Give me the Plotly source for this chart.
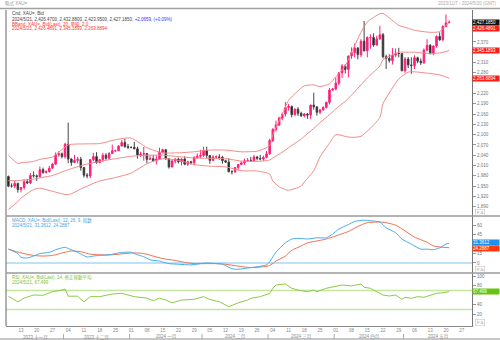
import pandas as pd
import plotly.graph_objects as go

# ---------------- data ----------------
dates = pd.bdate_range("2023-11-07", "2024-05-21").strftime("%Y-%m-%d").tolist()

opens = [1978, 1950, 1950, 1958,
         1940, 1946, 1963, 1959, 1981,
         1980, 1978, 1998, 1990, 1992,
         2002, 2014, 2041, 2044, 2036,
         2072, 2029, 2019, 2025, 2028,
         2004, 1982, 1980, 2027, 2036,
         2019, 2027, 2040, 2031, 2045,
         2053, 2053, 2067, 2077, 2065,
         2063, 2063, 2059, 2041, 2043,
         2045, 2028, 2030, 2024, 2029,
         2049, 2056, 2029, 2006, 2023,
         2029, 2021, 2029, 2014, 2021,
         2018, 2033, 2037, 2039, 2054,
         2039, 2025, 2035, 2035, 2034,
         2024, 2020, 1992, 1992, 2004,
         2013, 2018, 2024, 2025, 2024,
         2035, 2031, 2029, 2034, 2044,
         2083, 2115, 2128, 2148, 2160,
         2179, 2182, 2158, 2174, 2162,
         2155, 2160, 2157, 2186, 2181,
         2165, 2172, 2179, 2194, 2230,
         2233, 2250, 2280, 2300, 2290,
         2329, 2339, 2352, 2333, 2372,
         2344, 2383, 2383, 2361, 2379,
         2391, 2327, 2322, 2316, 2332,
         2337, 2336, 2286, 2320, 2303,
         2301, 2324, 2314, 2309, 2346,
         2360, 2336, 2358, 2386, 2376,
         2415, 2426.47]
highs = [1981, 1958, 1965, 1960,
         1947, 1970, 1971, 1988, 1993,
         1984, 2007, 2004, 1996, 2009,
         2018, 2048, 2052, 2048, 2076,
         2135, 2031, 2041, 2035, 2035,
         2005, 1988, 2028, 2047, 2049,
         2029, 2047, 2046, 2049, 2071,
         2056, 2069, 2084, 2088, 2073,
         2065, 2079, 2065, 2050, 2064,
         2046, 2040, 2040, 2039, 2062,
         2059, 2058, 2032, 2027, 2031,
         2033, 2031, 2037, 2024, 2024,
         2037, 2045, 2056, 2065, 2065,
         2040, 2040, 2040, 2043, 2038,
         2027, 2031, 1996, 2005, 2015,
         2022, 2030, 2032, 2035, 2041,
         2038, 2041, 2039, 2052, 2088,
         2119, 2141, 2152, 2164, 2195,
         2189, 2185, 2177, 2180, 2167,
         2163, 2163, 2187, 2222, 2182,
         2175, 2183, 2196, 2236, 2235,
         2266, 2282, 2305, 2305, 2330,
         2354, 2365, 2355, 2378, 2431,
         2386, 2392, 2395, 2388, 2417,
         2396, 2333, 2334, 2352, 2351,
         2353, 2336, 2326, 2326, 2325,
         2331, 2327, 2322, 2351, 2378,
         2364, 2360, 2389, 2398, 2419,
         2450, 2432.88]
lows = [1947, 1946, 1944, 1931,
        1932, 1940, 1956, 1956, 1975,
        1965, 1975, 1986, 1987, 1990,
        2001, 2012, 2036, 2031, 2030,
        2017, 2009, 2017, 2016, 1995,
        1975, 1973, 1973, 2022, 2015,
        2016, 2020, 2027, 2029, 2044,
        2050, 2052, 2065, 2062, 2058,
        2060, 2057, 2030, 2035, 2024,
        2017, 2027, 2021, 2013, 2028,
        2046, 2028, 2001, 2004, 2016,
        2016, 2010, 2011, 2009, 2013,
        2010, 2030, 2031, 2035, 2031,
        2015, 2023, 2029, 2027, 2015,
        2017, 1990, 1984, 1988, 1996,
        2011, 2012, 2020, 2020, 2020,
        2025, 2025, 2024, 2031, 2042,
        2078, 2109, 2125, 2142, 2153,
        2170, 2150, 2155, 2154, 2151,
        2150, 2146, 2146, 2173, 2155,
        2160, 2170, 2176, 2188, 2228,
        2229, 2244, 2265, 2278, 2267,
        2321, 2325, 2319, 2326, 2342,
        2325, 2350, 2356, 2359, 2376,
        2322, 2291, 2310, 2304, 2326,
        2325, 2285, 2280, 2294, 2277,
        2291, 2308, 2303, 2306, 2343,
        2334, 2331, 2353, 2373, 2373,
        2413, 2423.95]
closes = [1950, 1950, 1958, 1940,
          1946, 1963, 1959, 1981, 1980,
          1978, 1998, 1990, 1992, 2002,
          2014, 2041, 2044, 2036, 2072,
          2029, 2019, 2025, 2028, 2004,
          1982, 1980, 2027, 2036, 2019,
          2027, 2040, 2031, 2045, 2053,
          2053, 2067, 2077, 2065, 2063,
          2063, 2059, 2041, 2043, 2045,
          2028, 2030, 2024, 2029, 2049,
          2056, 2029, 2006, 2023, 2029,
          2021, 2029, 2014, 2021, 2018,
          2033, 2037, 2039, 2054, 2039,
          2025, 2035, 2035, 2034, 2024,
          2020, 1992, 1992, 2004, 2013,
          2018, 2024, 2025, 2024, 2035,
          2031, 2029, 2034, 2044, 2083,
          2115, 2128, 2148, 2160, 2179,
          2182, 2158, 2174, 2162, 2155,
          2160, 2157, 2186, 2181, 2165,
          2172, 2179, 2194, 2230, 2233,
          2250, 2280, 2300, 2290, 2329,
          2339, 2352, 2333, 2372, 2344,
          2383, 2383, 2361, 2379, 2391,
          2327, 2322, 2316, 2332, 2337,
          2336, 2286, 2320, 2303, 2301,
          2324, 2314, 2309, 2346, 2360,
          2336, 2358, 2386, 2376, 2415,
          2425.1191, 2427.185]

bb_dates = ["2023-11-07", "2023-11-10", "2023-11-13", "2023-11-17", "2023-11-21",
            "2023-11-27", "2023-12-04", "2023-12-11", "2023-12-18", "2023-12-25",
            "2024-01-01", "2024-01-08", "2024-01-15", "2024-01-22", "2024-01-29",
            "2024-02-05", "2024-02-12", "2024-02-19", "2024-02-26", "2024-03-01",
            "2024-03-04", "2024-03-06", "2024-03-08", "2024-03-11", "2024-03-15",
            "2024-03-18", "2024-03-21", "2024-03-25", "2024-03-28", "2024-04-01",
            "2024-04-04", "2024-04-08", "2024-04-11", "2024-04-15", "2024-04-19",
            "2024-04-22", "2024-04-26", "2024-04-29", "2024-05-02", "2024-05-06",
            "2024-05-13", "2024-05-16", "2024-05-20", "2024-05-21"]
bb_upper = [2040, 2016, 2018, 2022, 2028, 2035, 2070, 2073, 2074, 2085,
            2090, 2062, 2047, 2047, 2050, 2055, 2055, 2050, 2052, 2068,
            2100, 2140, 2180, 2200, 2236, 2242, 2245, 2240, 2248, 2268,
            2300, 2340, 2398, 2428, 2452, 2453, 2425, 2418, 2410, 2404,
            2398, 2400, 2418, 2426.4891]
bb_mid = [1966, 1966, 1967, 1970, 1974, 1981, 1998, 2012, 2022, 2030,
          2037, 2040, 2040, 2036, 2032, 2031, 2030, 2023, 2022, 2026,
          2032, 2043, 2055, 2062, 2087, 2095, 2118, 2135, 2158, 2175,
          2197, 2215, 2245, 2265, 2300, 2318, 2336, 2340, 2340, 2340,
          2336, 2338, 2342, 2345.1893]
bb_lower = [1882, 1905, 1915, 1940, 1944, 1935, 1925, 1946, 1965, 1975,
            1988, 2015, 2030, 2025, 2013, 2008, 2006, 1995, 1994, 1985,
            1965, 1948, 1940, 1938, 1950, 1962, 1995, 2035, 2075, 2100,
            2095, 2092, 2095, 2110, 2150, 2190, 2250, 2262, 2282, 2283,
            2278, 2274, 2268, 2263.8894]

macd_dates = ["2023-11-07", "2023-11-10", "2023-11-13", "2023-11-15", "2023-11-17",
              "2023-11-21", "2023-11-24", "2023-11-28", "2023-12-01", "2023-12-04",
              "2023-12-07", "2023-12-12", "2023-12-14", "2023-12-18", "2023-12-21",
              "2023-12-26", "2023-12-28", "2024-01-01", "2024-01-03", "2024-01-05",
              "2024-01-09", "2024-01-12", "2024-01-15", "2024-01-17", "2024-01-22",
              "2024-01-26", "2024-01-31", "2024-02-02", "2024-02-07", "2024-02-09",
              "2024-02-14", "2024-02-16", "2024-02-21", "2024-02-26", "2024-02-29",
              "2024-03-01", "2024-03-05", "2024-03-08", "2024-03-12", "2024-03-15",
              "2024-03-19", "2024-03-22", "2024-03-27", "2024-03-29", "2024-04-02",
              "2024-04-05", "2024-04-09", "2024-04-12", "2024-04-16", "2024-04-19",
              "2024-04-23", "2024-04-26", "2024-04-30", "2024-05-03", "2024-05-08",
              "2024-05-10", "2024-05-14", "2024-05-16", "2024-05-20", "2024-05-21"]
macd_vals = [22, 15, 9, 8, 11, 15, 17, 21, 25, 23,
             17, 9.5, 11, 12, 13, 16, 17, 17, 13, 10,
             5, 3, 1.5, -1, -2, -3, -1, 0, -1, -2,
             -9, -10, -8, -6, -3, 2, 17, 32, 38, 39,
             38, 40, 40, 46, 54, 61, 66, 68, 67, 65,
             56, 48, 38, 30, 22, 22, 21, 24, 30, 31.3612]

signal_dates = ["2023-11-07", "2023-11-13", "2023-11-17", "2023-11-22", "2023-11-27",
                "2023-12-01", "2023-12-05", "2023-12-08", "2023-12-13", "2023-12-18",
                "2023-12-22", "2023-12-28", "2024-01-02", "2024-01-05", "2024-01-10",
                "2024-01-15", "2024-01-19", "2024-01-24", "2024-01-29", "2024-02-02",
                "2024-02-07", "2024-02-12", "2024-02-16", "2024-02-21", "2024-02-26",
                "2024-03-01", "2024-03-05", "2024-03-08", "2024-03-12", "2024-03-15",
                "2024-03-19", "2024-03-22", "2024-03-27", "2024-04-01", "2024-04-05",
                "2024-04-10", "2024-04-15", "2024-04-19", "2024-04-23", "2024-04-26",
                "2024-05-01", "2024-05-06", "2024-05-10", "2024-05-14", "2024-05-17",
                "2024-05-21"]
signal_vals = [22, 16, 12, 11, 12, 17, 19, 18, 14, 13,
               13, 15, 16, 15, 11, 7, 4, 1, -1, -1,
               -1, -2, -5, -7, -7, -4, 3, 11, 20, 27,
               32, 35, 38, 43, 50, 58, 64, 65, 64, 60,
               51, 41, 33, 27, 25, 24.2887]

rsi_dates = ["2023-11-07", "2023-11-10", "2023-11-14", "2023-11-17", "2023-11-22",
             "2023-11-27", "2023-11-30", "2023-12-01", "2023-12-04", "2023-12-07",
             "2023-12-11", "2023-12-13", "2023-12-18", "2023-12-22", "2023-12-27",
             "2024-01-02", "2024-01-08", "2024-01-10", "2024-01-12", "2024-01-16",
             "2024-01-18", "2024-01-23", "2024-01-29", "2024-02-01", "2024-02-05",
             "2024-02-08", "2024-02-13", "2024-02-16", "2024-02-21", "2024-02-22",
             "2024-02-27", "2024-03-01", "2024-03-04", "2024-03-05", "2024-03-08",
             "2024-03-12", "2024-03-14", "2024-03-19", "2024-03-21", "2024-03-22",
             "2024-03-27", "2024-04-01", "2024-04-03", "2024-04-08", "2024-04-11",
             "2024-04-12", "2024-04-16", "2024-04-17", "2024-04-22", "2024-04-24",
             "2024-04-26", "2024-04-30", "2024-05-01", "2024-05-03", "2024-05-07",
             "2024-05-09", "2024-05-13", "2024-05-15", "2024-05-17", "2024-05-21"]
rsi_vals = [58, 46, 54, 60.5, 60, 67.5, 71, 73, 58, 58,
            46, 57, 57, 62.6, 64, 57, 54, 48.5, 54, 50,
            44, 50, 51.5, 57, 51, 46.5, 36, 44, 50, 53.5,
            57, 64, 74.6, 81.6, 83.7, 74.6, 71, 67.5, 71, 67.5,
            74.6, 79.5, 81.6, 79.5, 83.7, 76.7, 74.6, 71, 60.5, 58.4,
            60.5, 51.5, 55.7, 53.5, 57, 55.7, 60.5, 64, 65.4, 67.499]

price_ticks = list(range(1890, 2431, 30))
macd_ticks = [0, 15, 30, 45, 60]
rsi_ticks = [20, 40, 60, 80, 100]
rsi_levels = [70, 30]
month_names = ["一月", "二月", "三月", "四月", "五月", "六月",
               "七月", "八月", "九月", "十月", "十一月", "十二月"]

# ---------------- positions on a trading-day axis ----------------
axis_days = pd.bdate_range("2023-11-07", "2024-05-31")
pos = {d.strftime("%Y-%m-%d"): i for i, d in enumerate(axis_days)}
X_RANGE = [-0.76, 147.27]


def xs(ds):
    return [pos[d] for d in ds]


FONT = "Liberation Sans, Noto Sans CJK JP, sans-serif"
W, H = 500, 340
L, R, T, B = 6, 28, 10, 14
PW, PH = W - L - R, H - T - B


def pyp(y_px):
    return (H - B - y_px) / PH


def pxp(x_px):
    return (x_px - L) / PW


main_dom = [pyp(216), 1.0]
macd_dom = [pyp(273), pyp(216)]
rsi_dom = [0.0, pyp(273)]
Y_MAIN = [1863, 2463]
Y_MACD = [-15.9, 74.6]
Y_RSI = [-4.7, 106.8]

UP = "#FF1F78"
BB_C = "#F28A86"
MACD_C = "#45AEEA"
SIG_C = "#F2704E"
RSI_C = "#8CCB48"

fig = go.Figure()

fig.add_trace(go.Candlestick(
    x=xs(dates), open=opens, high=highs, low=lows, close=closes,
    increasing=dict(line=dict(color=UP, width=1), fillcolor=UP),
    decreasing=dict(line=dict(color="#444444", width=1), fillcolor="#111111"),
    whiskerwidth=0, xaxis="x", yaxis="y", showlegend=False, hoverinfo="skip"))

for arr in (bb_upper, bb_mid, bb_lower):
    fig.add_trace(go.Scatter(x=xs(bb_dates), y=arr, mode="lines",
                             line=dict(color=BB_C, width=1, shape="spline", smoothing=0.6),
                             xaxis="x", yaxis="y", showlegend=False, hoverinfo="skip"))

fig.add_trace(go.Scatter(x=X_RANGE, y=[0, 0], mode="lines",
                         line=dict(color="#7CC6F2", width=1.2),
                         xaxis="x2", yaxis="y2", showlegend=False, hoverinfo="skip"))
fig.add_trace(go.Scatter(x=xs(signal_dates), y=signal_vals, mode="lines",
                         line=dict(color=SIG_C, width=1, shape="spline", smoothing=0.6),
                         xaxis="x2", yaxis="y2", showlegend=False, hoverinfo="skip"))
fig.add_trace(go.Scatter(x=xs(macd_dates), y=macd_vals, mode="lines",
                         line=dict(color=MACD_C, width=1, shape="spline", smoothing=0.6),
                         xaxis="x2", yaxis="y2", showlegend=False, hoverinfo="skip"))

for lv in rsi_levels:
    fig.add_trace(go.Scatter(x=X_RANGE, y=[lv, lv], mode="lines",
                             line=dict(color="#C4E69E", width=1.5),
                             xaxis="x3", yaxis="y3", showlegend=False, hoverinfo="skip"))
fig.add_trace(go.Scatter(x=xs(rsi_dates), y=rsi_vals, mode="lines",
                         line=dict(color=RSI_C, width=1),
                         xaxis="x3", yaxis="y3", showlegend=False, hoverinfo="skip"))

# ---------------- axes ----------------
tick_days = [d for d in axis_days if d.weekday() == 0 and d >= pd.Timestamp("2023-11-13")]
tickvals = [pos[d.strftime("%Y-%m-%d")] for d in tick_days]
ticktext = [d.strftime("%d") for d in tick_days]

UPPER_SHIFT = -5.5


def ppu_of(yr, dom):
    return (dom[1] - dom[0]) * PH / (yr[1] - yr[0])


def free_ticks(ticks, labels, yr, dom, min_px=4.8):
    ppu = ppu_of(yr, dom)
    return [t for t in ticks if all(abs(t - v) * ppu > min_px for v in labels)]


main_ppu = ppu_of(Y_MAIN, main_dom)
main_label_vals = [closes[-1], closes[-1] + UPPER_SHIFT / main_ppu, bb_mid[-1], bb_lower[-1]]
macd_label_vals = [macd_vals[-1], signal_vals[-1]]
rsi_label_vals = [rsi_vals[-1]]

xcommon = dict(range=X_RANGE, showgrid=False, zeroline=False, showline=False,
               showticklabels=False, ticks="", fixedrange=True,
               rangeslider=dict(visible=False))
ycommon = dict(side="right", showgrid=False, zeroline=False, showline=True,
               linecolor="#777777", linewidth=1, ticks="outside", ticklen=3,
               tickcolor="#999999", tickfont=dict(size=4.5, color="#777777", family=FONT))

fig.update_layout(
    width=W, height=H, margin=dict(l=L, r=R, t=T, b=B),
    paper_bgcolor="white", plot_bgcolor="white",
    font=dict(family=FONT, size=4.5, color="#555555"),
    xaxis=dict(**xcommon, domain=[0, 1], anchor="y"),
    xaxis2=dict(**xcommon, domain=[0, 1], anchor="y2", matches="x"),
    xaxis3=dict(range=X_RANGE, domain=[0, 1], anchor="y3", matches="x",
                rangeslider=dict(visible=False),
                showgrid=False, zeroline=False, showline=True, linecolor="#888888",
                tickvals=tickvals, ticktext=ticktext, ticks="",
                tickfont=dict(size=4.5, color="#888888", family=FONT)),
    yaxis=dict(**ycommon, domain=main_dom, anchor="x", range=Y_MAIN,
               tickvals=free_ticks(price_ticks, main_label_vals, Y_MAIN, main_dom),
               tickformat=",d"),
    yaxis2=dict(**ycommon, domain=macd_dom, anchor="x2", range=Y_MACD,
                tickvals=free_ticks(macd_ticks, macd_label_vals, Y_MACD, macd_dom)),
    yaxis3=dict(**ycommon, domain=rsi_dom, anchor="x3", range=Y_RSI,
                tickvals=free_ticks(rsi_ticks, rsi_label_vals, Y_RSI, rsi_dom)),
    showlegend=False,
)

shapes = []
shapes.append(dict(type="line", xref="paper", yref="paper", x0=0, x1=0, y0=0, y1=1,
                   line=dict(color="#666666", width=1)))
for yy in (main_dom[0], macd_dom[0]):
    shapes.append(dict(type="line", xref="paper", yref="paper", x0=0, x1=pxp(W), y0=yy, y1=yy,
                       line=dict(color="#9A9A9A", width=1.5)))
shapes.append(dict(type="line", xref="paper", yref="paper", x0=pxp(0), x1=pxp(W),
                   y0=pyp(8.5), y1=pyp(8.5), line=dict(color="#A0A0A0", width=1.5)))
shapes.append(dict(type="rect", xref="paper", yref="paper", x0=pxp(0), x1=pxp(W),
                   y0=pyp(H - 2), y1=pyp(H), fillcolor="#C8C8C8", line=dict(width=0)))

annotations = []


def txt(x_px, y_px, text, color="#555555", size=4.5, xanchor="left"):
    annotations.append(dict(xref="paper", yref="paper", x=pxp(x_px), y=pyp(y_px),
                            text=text, showarrow=False, xanchor=xanchor, yanchor="middle",
                            font=dict(size=size, color=color, family=FONT)))


txt(3, 4, "略式 XAU=", "#999999")
txt(498, 4, "2023/11/7 - 2024/5/20 (GMT)", "#AAAAAA", xanchor="right")

ld = pd.Timestamp(dates[-1])
dstr = f"{ld.year}/{ld.month}/{ld.day}"
chg = closes[-1] - closes[-2]
pct = chg / closes[-2] * 100
txt(10, 14, "Cnd, XAU=, Bid", "#444444")
txt(10, 19, f"{dstr}, {opens[-1]:,.4f}, {highs[-1]:,.4f}, {lows[-1]:,.4f}, {closes[-1]:,.4f}, "
            f"<span style='color:#3333FF'>{chg:+.4f}, ({pct:+.2f}%)</span>", "#444444")
txt(10, 24, "BBand, XAU=, Bid(Last), 20, 単純, 2.0", "#FF3333")
txt(10, 29, f"{dstr}, {bb_upper[-1]:,.4f}, {bb_mid[-1]:,.4f}, {bb_lower[-1]:,.4f}", "#FF3333")
txt(10, 220, "MACD, XAU=, Bid(Last), 12, 26, 9, 指数", "#3DA5E8")
txt(10, 225, f"{dstr}, {macd_vals[-1]:.4f}, {signal_vals[-1]:.4f}", "#3DA5E8")
txt(10, 277, "RSI, XAU=, Bid(Last), 14, 修正移動平均", "#7DBE3A")
txt(10, 282, f"{dstr}, {rsi_vals[-1]:.3f}", "#7DBE3A")

for (yr, mo), grp in pd.Series(range(len(axis_days)), index=axis_days).groupby(
        [axis_days.year, axis_days.month]):
    a = max(grp.iloc[0] - 0.5, X_RANGE[0])
    b = min(grp.iloc[-1] + 0.5, X_RANGE[1])
    if b <= a:
        continue
    annotations.append(dict(xref="x3", yref="paper", x=(a + b) / 2, y=pyp(337),
                            text=f"{yr} {month_names[mo - 1]}", showarrow=False,
                            xanchor="center", yanchor="middle",
                            font=dict(size=4.5, color="#888888", family=FONT)))
    if grp.iloc[0] > 0:
        shapes.append(dict(type="line", xref="x3", yref="paper",
                           x0=grp.iloc[0] - 0.5, x1=grp.iloc[0] - 0.5,
                           y0=pyp(334), y1=pyp(339), line=dict(color="#AAAAAA", width=1)))


def label(yref, value, text, bg, shift=0):
    annotations.append(dict(xref="paper", yref=yref, x=1, y=value, xanchor="left",
                            yanchor="middle", text=text, showarrow=False, bgcolor=bg,
                            width=26, align="left", borderpad=0, yshift=shift,
                            font=dict(size=4.5, color="white", family=FONT)))


label("y", closes[-1], f"{closes[-1]:,.4f}", "#111111")
label("y", bb_upper[-1], f"{bb_upper[-1]:,.4f}", "#FF1A1A", shift=UPPER_SHIFT)
label("y", bb_mid[-1], f"{bb_mid[-1]:,.4f}", "#FF1A1A")
label("y", bb_lower[-1], f"{bb_lower[-1]:,.4f}", "#FF1A1A")
label("y2", macd_vals[-1], f"{macd_vals[-1]:.4f}", "#1E90F0", shift=0.5)
label("y2", signal_vals[-1], f"{signal_vals[-1]:.4f}", "#FF3A10", shift=-0.5)
label("y3", rsi_vals[-1], f"{rsi_vals[-1]:.3f}", "#66C414")

for y_px in (212.5, 269.5, 322.5):
    annotations.append(dict(xref="paper", yref="paper", x=pxp(475), y=pyp(y_px),
                            xanchor="left", yanchor="middle", text="ドル", showarrow=False,
                            bordercolor="#BBBBBB", borderwidth=0.5, borderpad=0.5,
                            font=dict(size=4, color="#888888", family=FONT)))

fig.update_layout(shapes=shapes, annotations=annotations)
fig.write_html("out.html")
